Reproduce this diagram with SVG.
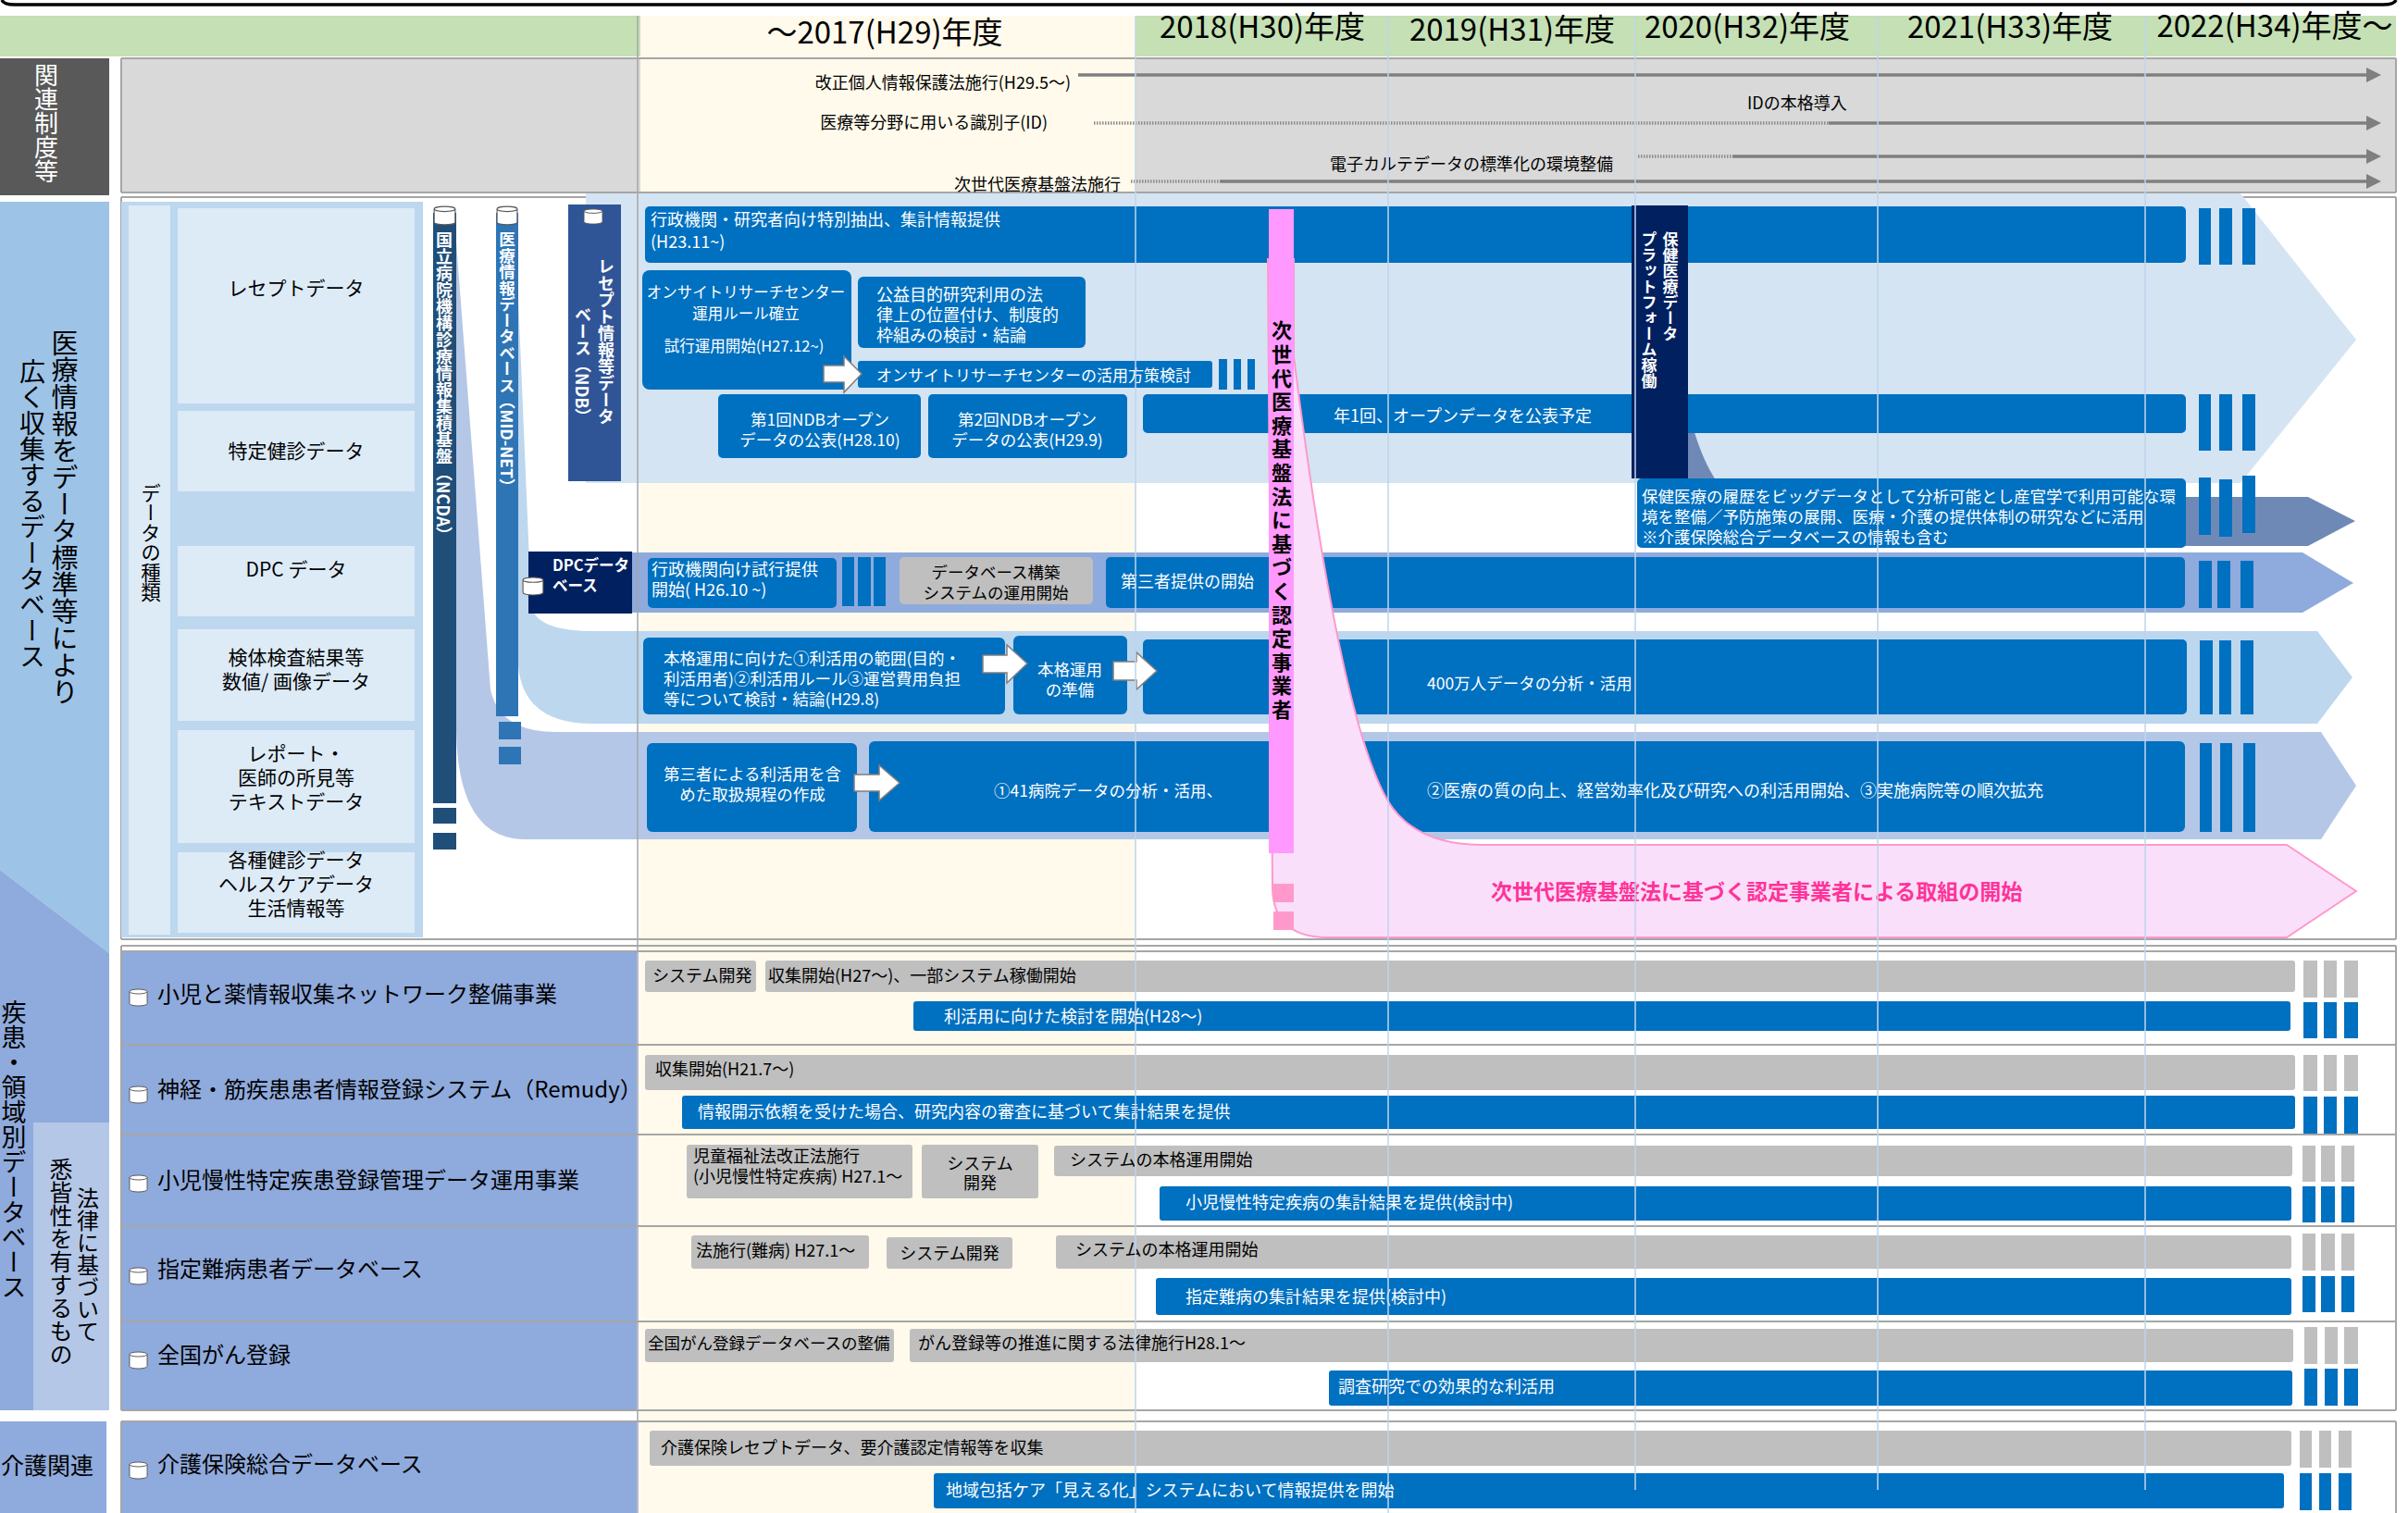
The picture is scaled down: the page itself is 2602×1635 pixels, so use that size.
<svg xmlns="http://www.w3.org/2000/svg" width="2602" height="1635" viewBox="0 0 2602 1635">
<defs>
<style>
text{font-family:"Noto Sans CJK JP","Noto Sans CJK SC","Noto Sans",sans-serif;dominant-baseline:central}
.v{writing-mode:vertical-rl}
.w{fill:#fff}
.k{fill:#000}
.bd{font-weight:bold}
.mid{text-anchor:middle}
.end{text-anchor:end}
.blue{fill:#0070C0}
.gray{fill:#BFBFBF}
.dbox{fill:#DDEBF7}
.sep{stroke:#A6A6A6;stroke-width:2;fill:none}
.grid{stroke:#BFD5EC;stroke-width:1.5;fill:none}
.arr{fill:#fff;stroke:#7F7F7F;stroke-width:1.5}
.tl{stroke:#7F7F7F;stroke-width:3.5;fill:none}
.dot{stroke:#8C8C8C;stroke-width:3.5;stroke-dasharray:1.5 1.5;fill:none}
.yr{font-size:33px;fill:#000}
.s17{font-size:17px}.s175{font-size:17.5px}.s18{font-size:18px}.s21{font-size:21px}.s24{font-size:24px}
</style>
<marker id="ah" viewBox="0 0 16 16" refX="1" refY="8" markerWidth="16" markerHeight="16" markerUnits="userSpaceOnUse" orient="auto"><path d="M0,0 L16,8 L0,16 Z" fill="#7F7F7F"/></marker>
<symbol id="cyl" viewBox="0 0 22 20" preserveAspectRatio="none"><path d="M1,3.5 A10,2.5 0 0 1 21,3.5 V16.5 A10,2.5 0 0 1 1,16.5 Z" fill="#fff" stroke="#595959" stroke-width="1"/><path d="M1,3.5 A10,2.5 0 0 0 21,3.5" fill="none" stroke="#595959" stroke-width="1"/></symbol>
</defs>
<rect x="0" y="0" width="2602" height="1635" fill="#fff"/>

<!-- frame / header -->
<g id="header">
<path d="M2,0 Q4,5 16,5 H2575 Q2587,5 2589,0" fill="none" stroke="#000" stroke-width="3.5"/>
<rect x="0" y="17" width="2589" height="44" fill="#C5E0B4"/>
<rect x="692" y="17" width="535" height="1618" fill="#FFFAEB"/>
<text class="yr mid" x="956" y="33">～2017(H29)年度</text>
<text class="yr mid" x="1364" y="27">2018(H30)年度</text>
<text class="yr mid" x="1634" y="30">2019(H31)年度</text>
<text class="yr mid" x="1888" y="27">2020(H32)年度</text>
<text class="yr mid" x="2172" y="27">2021(H33)年度</text>
<text class="yr mid" x="2458" y="26">2022(H34)年度～</text>
</g>

<!-- row 1 -->
<g id="row-related">
<rect x="0" y="63" width="118" height="148" fill="#595959"/>
<text class="v w" x="50" y="68" style="font-size:26px">関連制度等</text>
<rect x="131" y="63" width="561" height="145" fill="#D9D9D9"/>
<rect x="1227" y="63" width="1362" height="145" fill="#D9D9D9"/>
<path class="sep" d="M131,63 H2589 M131,208 H2589 M131,63 V208 M2589,63 V208"/>
<text class="s18 k end" x="1157" y="88">改正個人情報保護法施行(H29.5～)</text>
<text class="s18 k end" x="1132" y="131">医療等分野に用いる識別子(ID)</text>
<text class="s18 k" x="1888" y="110">IDの本格導入</text>
<text class="s18 k" x="1437" y="176">電子カルテデータの標準化の環境整備</text>
<text class="s18 k end" x="1211" y="198">次世代医療基盤法施行</text>
</g>

<!-- left labels -->
<g id="label-bigdata">
<path d="M0,218 H118 V1030 L0,940 Z" fill="#9DC3E6"/>
<text class="v k" x="70" y="356" style="font-size:29px">医療情報をデータ標準等により</text>
<text class="v k" x="35" y="387" style="font-size:28px">広く収集するデータベース</text>
</g>
<g id="label-disease">
<path d="M0,940 L118,1030 V1524 H0 Z" fill="#8FAADC"/>
<rect x="36" y="1213" width="82" height="311" fill="#B4C7E7"/>
<text class="v k" x="15" y="1080" style="font-size:27px">疾患・領域別データベース</text>
<text class="v k" x="95" y="1283" style="font-size:24px">法律に基づいて</text>
<text class="v k" x="66" y="1251" style="font-size:25px">悉皆性を有するもの</text>
</g>
<g id="label-care">
<rect x="0" y="1536" width="115" height="99" fill="#8FAADC"/>
<text class="k mid" x="51" y="1582" style="font-size:25px">介護関連</text>
</g>

<!-- row 2 frame -->
<path class="sep" d="M131,213 H2589 M131,1015 H2589 M131,213 V1015 M2589,213 V1015"/>

<!-- data types -->
<g id="datatypes">
<rect x="131" y="218" width="326" height="795" fill="#BDD7EE"/>
<rect x="139" y="222" width="45" height="788" fill="#DDEBF7"/>
<text class="v k" x="163" y="522" style="font-size:21.5px">データの種類</text>
<g id="dt-receipt"><rect class="dbox" x="192" y="225" width="256" height="211"/><text class="s21 k mid" x="320" y="310">レセプトデータ</text></g>
<g id="dt-kenshin"><rect class="dbox" x="192" y="444" width="256" height="87"/><text class="s21 k mid" x="320" y="486">特定健診データ</text></g>
<g id="dt-dpc"><rect class="dbox" x="192" y="590" width="256" height="76"/><text class="s21 k mid" x="320" y="614">DPC データ</text></g>
<g id="dt-kentai"><rect class="dbox" x="192" y="680" width="256" height="99"/><text class="s21 k mid" x="320" y="709">検体検査結果等</text><text class="s21 k mid" x="320" y="735">数値/ 画像データ</text></g>
<g id="dt-report"><rect class="dbox" x="192" y="789" width="256" height="122"/><text class="s21 k mid" x="320" y="813">レポート・</text><text class="s21 k mid" x="320" y="839">医師の所見等</text><text class="s21 k mid" x="320" y="865">テキストデータ</text></g>
<g id="dt-health"><rect class="dbox" x="192" y="921" width="256" height="87"/><text class="s21 k mid" x="320" y="928">各種健診データ</text><text class="s21 k mid" x="320" y="954">ヘルスケアデータ</text><text class="s21 k mid" x="320" y="980">生活情報等</text></g>
</g>

<!-- bands / ribbons -->
<g id="bands">
<path d="M633,209 H2421 L2546,367 L2421,522 H633 Z" fill="#D4E4F3"/>
<path d="M493,262 L530,745 Q540,791 600,791 H2508 L2546,849 L2508,907 H565 Q495,905 493,790 Z" fill="#B4C7E7"/>
<path d="M557,250 L574,655 Q580,682 640,682 H2504 L2542,732 L2504,782 H640 Q566,782 560,720 Z" fill="#BDD7EE"/>
<path d="M683,597 H2488 L2543,630 L2488,662 H683 Z" fill="#8FAADC"/>
<path d="M1824,440 Q1838,505 1868,537 H2494 L2545,563 L2494,590 H1824 Z" fill="#6F89B6"/>
</g>

<!-- DB bars -->
<g id="db-ncda">
<rect x="468" y="230" width="25" height="638" fill="#1F4E79"/>
<rect x="468" y="873" width="25" height="17" fill="#1F4E79"/>
<rect x="468" y="900" width="25" height="18" fill="#1F4E79"/>
<use href="#cyl" x="468" y="222" width="25" height="22"/>
<text class="v w bd" x="480" y="250" style="font-size:18px">国立病院機構診療情報集積基盤（NCDA）</text>
</g>
<g id="db-midnet">
<rect x="536" y="230" width="24" height="544" fill="#2E75B6"/>
<rect x="539" y="780" width="24" height="19" fill="#2E75B6"/>
<rect x="539" y="807" width="24" height="19" fill="#2E75B6"/>
<use href="#cyl" x="536" y="222" width="24" height="22"/>
<text class="v w bd" x="548" y="250" style="font-size:17.5px">医療情報データベース（MID-NET）</text>
</g>
<g id="db-ndb">
<rect x="614" y="221" width="57" height="299" fill="#2F5597"/>
<use href="#cyl" x="630" y="225" width="22" height="18"/>
<text class="v w bd" x="655" y="279" style="font-size:18px">レセプト情報等データ</text>
<text class="v w bd" x="630" y="331" style="font-size:18px">ベース（NDB）</text>
</g>
<g id="db-dpc">
<rect x="571" y="596" width="112" height="67" fill="#002060"/>
<use href="#cyl" x="564" y="623" width="24" height="21"/>
<text class="w bd" x="597" y="610" style="font-size:16.5px">DPCデータ</text>
<text class="w bd" x="597" y="632" style="font-size:16.5px">ベース</text>
</g>

<!-- NDB band nodes -->
<g id="n-tokubetsu"><rect class="blue" x="697" y="223" width="1665" height="61" rx="5"/><text class="s18 w" x="703" y="236">行政機関・研究者向け特別抽出、集計情報提供</text><text class="s18 w" x="703" y="260">(H23.11~)</text></g>
<g id="n-onsite"><rect class="blue" x="694" y="292" width="226" height="129" rx="8"/><text class="w mid" x="806" y="315" style="font-size:16.5px">オンサイトリサーチセンター</text><text class="w mid" x="806" y="338" style="font-size:16.5px">運用ルール確立</text><text class="w mid" x="804" y="373" style="font-size:16.5px">試行運用開始(H27.12~)</text></g>
<g id="n-koeki"><rect class="blue" x="927" y="299" width="246" height="77" rx="6"/><text class="s18 w" x="947" y="317">公益目的研究利用の法</text><text class="s18 w" x="947" y="339">律上の位置付け、制度的</text><text class="s18 w" x="947" y="361">枠組みの検討・結論</text></g>
<g id="n-katsuyo"><rect class="blue" x="927" y="390" width="383" height="29" rx="3"/><text class="s17 w" x="947" y="404">オンサイトリサーチセンターの活用方策検討</text>
<rect class="blue" x="1317" y="388" width="9" height="33"/><rect class="blue" x="1333" y="388" width="8" height="33"/><rect class="blue" x="1348" y="388" width="8" height="33"/></g>
<g id="n-open1"><rect class="blue" x="776" y="426" width="219" height="69" rx="5"/><text class="s175 w mid" x="886" y="452">第1回NDBオープン</text><text class="s175 w mid" x="886" y="474">データの公表(H28.10)</text></g>
<g id="n-open2"><rect class="blue" x="1003" y="426" width="215" height="69" rx="5"/><text class="s175 w mid" x="1110" y="452">第2回NDBオープン</text><text class="s175 w mid" x="1110" y="474">データの公表(H29.9)</text></g>
<g id="n-nen1"><rect class="blue" x="1235" y="426" width="1127" height="42" rx="5"/><text class="s18 w" x="1441" y="448">年1回、オープンデータを公表予定</text></g>
<g id="n-bars-ndb">
<rect class="blue" x="2376" y="225" width="13" height="61"/><rect class="blue" x="2398" y="225" width="14" height="61"/><rect class="blue" x="2423" y="225" width="14" height="61"/>
<rect class="blue" x="2376" y="426" width="13" height="61"/><rect class="blue" x="2398" y="426" width="14" height="61"/><rect class="blue" x="2423" y="426" width="14" height="61"/>
</g>
<g id="n-hoken"><rect class="blue" x="1769" y="517" width="593" height="75" rx="5"/><text class="s175 w" x="1774" y="535">保健医療の履歴をビッグデータとして分析可能とし産官学で利用可能な環</text><text class="s175 w" x="1774" y="557">境を整備／予防施策の展開、医療・介護の提供体制の研究などに活用</text><text class="s175 w" x="1774" y="579">※介護保険総合データベースの情報も含む</text>
<rect class="blue" x="2376" y="516" width="13" height="62"/><rect class="blue" x="2398" y="518" width="14" height="62"/><rect class="blue" x="2423" y="514" width="14" height="62"/></g>

<!-- DPC band nodes -->
<g id="n-dpc-trial"><rect class="blue" x="700" y="603" width="204" height="54" rx="5"/><text class="s18 w" x="704" y="614">行政機関向け試行提供</text><text class="s18 w" x="704" y="636">開始( H26.10 ~)</text>
<rect class="blue" x="910" y="602" width="13" height="53"/><rect class="blue" x="927" y="602" width="14" height="53"/><rect class="blue" x="944" y="602" width="13" height="53"/></g>
<g id="n-dpc-system"><rect class="gray" x="972" y="602" width="209" height="51" rx="5"/><text class="s175 k mid" x="1076" y="617">データベース構築</text><text class="s175 k mid" x="1076" y="639">システムの運用開始</text></g>
<g id="n-dpc-third"><rect class="blue" x="1195" y="602" width="1166" height="55" rx="5"/><text class="s18 w" x="1211" y="627">第三者提供の開始</text>
<rect class="blue" x="2376" y="606" width="14" height="51"/><rect class="blue" x="2396" y="606" width="14" height="51"/><rect class="blue" x="2421" y="606" width="14" height="51"/></g>

<!-- MID-NET band nodes -->
<g id="n-mid-kento"><rect class="blue" x="695" y="689" width="391" height="83" rx="6"/><text class="s175 w" x="717" y="710">本格運用に向けた①利活用の範囲(目的・</text><text class="s175 w" x="717" y="732">利活用者)②利活用ルール③運営費用負担</text><text class="s175 w" x="717" y="754">等について検討・結論(H29.8)</text></g>
<g id="n-mid-junbi"><rect class="blue" x="1095" y="687" width="123" height="85" rx="6"/><text class="s175 w mid" x="1156" y="722">本格運用</text><text class="s175 w mid" x="1156" y="744">の準備</text></g>
<g id="n-mid-400"><rect class="blue" x="1235" y="691" width="1128" height="81" rx="5"/><text class="s175 w" x="1542" y="737">400万人データの分析・活用</text>
<rect class="blue" x="2377" y="692" width="14" height="80"/><rect class="blue" x="2398" y="692" width="13" height="80"/><rect class="blue" x="2421" y="692" width="14" height="80"/></g>

<!-- NCDA band nodes -->
<g id="n-ncda-kitei"><rect class="blue" x="699" y="803" width="227" height="96" rx="6"/><text class="s175 w mid" x="813" y="835">第三者による利活用を含</text><text class="s175 w mid" x="813" y="857">めた取扱規程の作成</text></g>
<g id="n-ncda-41"><rect class="blue" x="939" y="801" width="1422" height="98" rx="6"/><text class="s175 w" x="1074" y="853">①41病院データの分析・活用、</text><text class="s18 w" x="1542" y="853">②医療の質の向上、経営効率化及び研究への利活用開始、③実施病院等の順次拡充</text>
<rect class="blue" x="2377" y="803" width="13" height="96"/><rect class="blue" x="2399" y="803" width="13" height="96"/><rect class="blue" x="2424" y="803" width="13" height="96"/></g>

<!-- connectors -->
<g id="connectors">
<path class="tl" d="M1165,81 H2558" marker-end="url(#ah)"/>
<path class="dot" d="M1182,133 H1976"/>
<path class="tl" d="M1976,133 H2558" marker-end="url(#ah)"/>
<path class="dot" d="M1770,169 H1872"/>
<path class="tl" d="M1872,169 H2558" marker-end="url(#ah)"/>
<path class="dot" d="M1222,196 H1318"/>
<path class="tl" d="M1318,196 H2558" marker-end="url(#ah)"/>
<path class="arr" d="M890,395 H912 V385 L931,404 L912,424 V413 H890 Z"/>
<path class="arr" d="M1062,708 H1088 V697 L1110,717 L1088,738 V727 H1062 Z"/>
<path class="arr" d="M1203,715 H1228 V705 L1250,725 L1228,745 V735 H1203 Z"/>
<path class="arr" d="M923,837 H950 V827 L972,846 L950,865 V855 H923 Z"/>
</g>

<!-- next generation law -->
<g id="n-nextgen">
<path d="M1370,280 H1398 V385 C1420,560 1455,790 1500,866 Q1528,912 1600,913 H2471 L2546,963 L2471,1013 H1433 Q1376,1012 1375,960 Z" fill="#FADFFA" stroke="#FF99CC" stroke-width="2"/>
<rect x="1371" y="226" width="27" height="696" fill="#FF99FF"/>
<rect x="1376" y="955" width="22" height="20" fill="#FF99CC"/>
<rect x="1376" y="985" width="22" height="20" fill="#FF99CC"/>
<text class="v k bd" x="1385" y="346" style="font-size:22px;letter-spacing:3.6px">次世代医療基盤法に基づく認定事業者</text>
<text class="bd" x="1611" y="962" style="font-size:23px;fill:#FF3399">次世代医療基盤法に基づく認定事業者による取組の開始</text>
</g>

<!-- platform -->
<g id="n-platform">
<rect x="1763" y="222" width="61" height="295" fill="#002060"/>
<text class="v w bd" x="1805" y="250" style="font-size:17px">保健医療データ</text>
<text class="v w bd" x="1782" y="250" style="font-size:17px">プラットフォーム稼働</text>
</g>

<!-- lower section -->
<g id="lower-frame">
<rect x="131" y="1028" width="557" height="496" fill="#8FAADC"/>
<rect x="131" y="1536" width="557" height="99" fill="#8FAADC"/>
<path class="sep" d="M131,1022 H2589 M131,1028 H2589 M131,1129 H2589 M131,1226 H2589 M131,1325 H2589 M131,1428 H2589 M131,1524 H2589 M131,1536 H2589 M131,1022 V1524 M131,1536 V1635 M2589,1022 V1524 M2589,1536 V1635"/>
</g>

<g id="r-shoni-yaku">
<use href="#cyl" x="139" y="1068" width="21" height="20"/>
<text class="s24 k" x="170" y="1072">小児と薬情報収集ネットワーク整備事業</text>
<g><rect class="gray" x="697" y="1038" width="120" height="34" rx="3"/><text class="s18 k" x="705" y="1053">システム開発</text></g>
<g><rect class="gray" x="827" y="1038" width="1653" height="34" rx="3"/><text class="s18 k" x="830" y="1053">収集開始(H27～)、一部システム稼働開始</text></g>
<g><rect class="blue" x="987" y="1082" width="1488" height="32" rx="3"/><text class="s18 w" x="1020" y="1097">利活用に向けた検討を開始(H28～)</text></g>
<rect class="gray" x="2489" y="1038" width="15" height="40"/><rect class="gray" x="2511" y="1038" width="14" height="40"/><rect class="gray" x="2533" y="1038" width="15" height="40"/>
<rect class="blue" x="2489" y="1083" width="15" height="39"/><rect class="blue" x="2511" y="1083" width="14" height="39"/><rect class="blue" x="2533" y="1083" width="15" height="39"/>
</g>

<g id="r-remudy">
<use href="#cyl" x="139" y="1173" width="21" height="20"/>
<text class="s24 k" x="170" y="1175">神経・筋疾患患者情報登録システム（Remudy）</text>
<g><rect class="gray" x="697" y="1140" width="1783" height="38" rx="3"/><text class="s18 k" x="708" y="1154">収集開始(H21.7～)</text></g>
<g><rect class="blue" x="737" y="1184" width="1743" height="36" rx="3"/><text class="s18 w" x="754" y="1200">情報開示依頼を受けた場合、研究内容の審査に基づいて集計結果を提供</text></g>
<rect class="gray" x="2489" y="1140" width="15" height="39"/><rect class="gray" x="2511" y="1140" width="14" height="39"/><rect class="gray" x="2533" y="1140" width="15" height="39"/>
<rect class="blue" x="2489" y="1185" width="15" height="40"/><rect class="blue" x="2511" y="1185" width="14" height="40"/><rect class="blue" x="2533" y="1185" width="15" height="40"/>
</g>

<g id="r-shoman">
<use href="#cyl" x="139" y="1269" width="21" height="20"/>
<text class="s24 k" x="170" y="1273">小児慢性特定疾患登録管理データ運用事業</text>
<g><rect class="gray" x="742" y="1237" width="244" height="58" rx="3"/><text class="s18 k" x="749" y="1248">児童福祉法改正法施行</text><text class="s18 k" x="749" y="1270">(小児慢性特定疾病) H27.1～</text></g>
<g><rect class="gray" x="996" y="1237" width="126" height="58" rx="3"/><text class="s18 k mid" x="1059" y="1256">システム</text><text class="s18 k mid" x="1059" y="1277">開発</text></g>
<g><rect class="gray" x="1139" y="1238" width="1338" height="33" rx="3"/><text class="s18 k" x="1156" y="1252">システムの本格運用開始</text></g>
<g><rect class="blue" x="1253" y="1282" width="1223" height="37" rx="3"/><text class="s18 w" x="1281" y="1298">小児慢性特定疾病の集計結果を提供(検討中)</text></g>
<rect class="gray" x="2488" y="1238" width="14" height="39"/><rect class="gray" x="2508" y="1238" width="15" height="39"/><rect class="gray" x="2530" y="1238" width="14" height="39"/>
<rect class="blue" x="2488" y="1282" width="14" height="39"/><rect class="blue" x="2508" y="1282" width="15" height="39"/><rect class="blue" x="2530" y="1282" width="14" height="39"/>
</g>

<g id="r-nanbyo">
<use href="#cyl" x="139" y="1369" width="21" height="20"/>
<text class="s24 k" x="170" y="1369">指定難病患者データベース</text>
<g><rect class="gray" x="747" y="1335" width="192" height="36" rx="3"/><text class="s18 k" x="752" y="1350">法施行(難病) H27.1～</text></g>
<g><rect class="gray" x="958" y="1337" width="136" height="34" rx="3"/><text class="s18 k mid" x="1026" y="1353">システム開発</text></g>
<g><rect class="gray" x="1141" y="1335" width="1335" height="36" rx="3"/><text class="s18 k" x="1162" y="1349">システムの本格運用開始</text></g>
<g><rect class="blue" x="1249" y="1381" width="1227" height="40" rx="3"/><text class="s18 w" x="1281" y="1400">指定難病の集計結果を提供(検討中)</text></g>
<rect class="gray" x="2488" y="1333" width="14" height="40"/><rect class="gray" x="2508" y="1333" width="15" height="40"/><rect class="gray" x="2530" y="1333" width="14" height="40"/>
<rect class="blue" x="2488" y="1379" width="14" height="39"/><rect class="blue" x="2508" y="1379" width="15" height="39"/><rect class="blue" x="2530" y="1379" width="14" height="39"/>
</g>

<g id="r-gan">
<use href="#cyl" x="139" y="1460" width="21" height="20"/>
<text class="s24 k" x="170" y="1462">全国がん登録</text>
<g><rect class="gray" x="697" y="1436" width="269" height="36" rx="3"/><text class="k" x="700" y="1450" style="font-size:17.5px">全国がん登録データベースの整備</text></g>
<g><rect class="gray" x="983" y="1436" width="1495" height="36" rx="3"/><text class="s18 k" x="992" y="1450">がん登録等の推進に関する法律施行H28.1～</text></g>
<g><rect class="blue" x="1436" y="1481" width="1041" height="38" rx="3"/><text class="s18 w" x="1446" y="1497">調査研究での効果的な利活用</text></g>
<rect class="gray" x="2490" y="1434" width="14" height="40"/><rect class="gray" x="2512" y="1434" width="14" height="40"/><rect class="gray" x="2533" y="1434" width="15" height="40"/>
<rect class="blue" x="2490" y="1479" width="14" height="40"/><rect class="blue" x="2512" y="1479" width="14" height="40"/><rect class="blue" x="2533" y="1479" width="15" height="40"/>
</g>

<g id="r-kaigo">
<use href="#cyl" x="139" y="1579" width="21" height="20"/>
<text class="s24 k" x="170" y="1580">介護保険総合データベース</text>
<g><rect class="gray" x="702" y="1546" width="1774" height="38" rx="3"/><text class="s18 k" x="714" y="1563">介護保険レセプトデータ、要介護認定情報等を収集</text></g>
<g><rect class="blue" x="1009" y="1592" width="1459" height="38" rx="3"/><text class="s18 w" x="1022" y="1609">地域包括ケア「見える化」システムにおいて情報提供を開始</text></g>
<rect class="gray" x="2485" y="1546" width="13" height="40"/><rect class="gray" x="2506" y="1546" width="13" height="40"/><rect class="gray" x="2527" y="1546" width="14" height="40"/>
<rect class="blue" x="2485" y="1592" width="13" height="40"/><rect class="blue" x="2506" y="1592" width="13" height="40"/><rect class="blue" x="2527" y="1592" width="14" height="40"/>
</g>

<!-- grid lines -->
<g id="grid">
<path d="M689,17 V1635" stroke="#A6A6A6" stroke-width="1.5"/>
<path class="grid" d="M1227,17 V1635 M1500,17 V1635 M1767,17 V1610 M2029,17 V1610 M2318,17 V1610"/>
</g>
</svg>
